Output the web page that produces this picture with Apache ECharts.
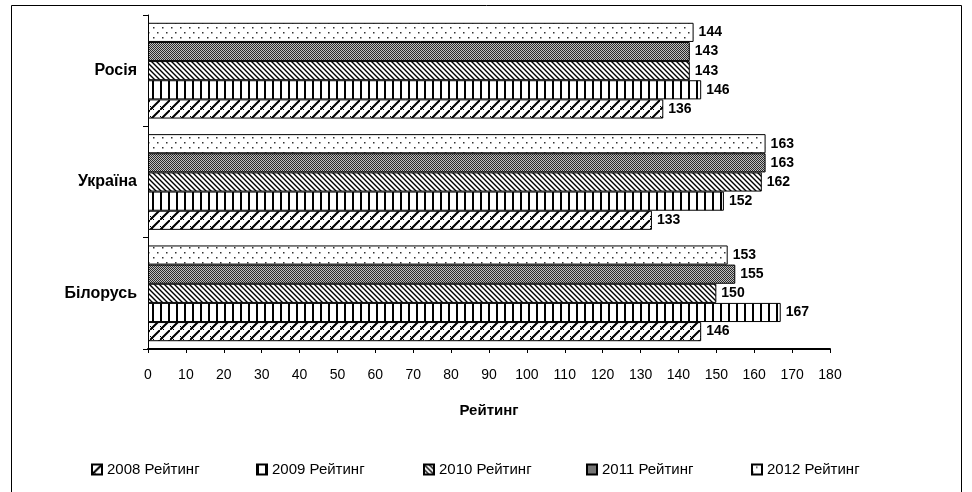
<!DOCTYPE html>
<html><head><meta charset="utf-8">
<script src="https://cdn.jsdelivr.net/npm/echarts@6/dist/echarts.min.js"></script>
</head><body style="margin:0;background:#fff">
<div id="c" style="width:972px;height:492px"></div>
<script>
const categories = ['Білорусь', 'Україна', 'Росія'];
const seriesNames = ['2008 Рейтинг', '2009 Рейтинг', '2010 Рейтинг', '2011 Рейтинг', '2012 Рейтинг'];
const v2008 = [146, 133, 136];
const v2009 = [167, 152, 146];
const v2010 = [150, 162, 143];
const v2011 = [155, 163, 143];
const v2012 = [153, 163, 144];
const xMin = 0, xMax = 180, xInterval = 10;
const axisTitle = 'Рейтинг';

const FONT = '"Liberation Sans", Arial, sans-serif';

function pat(w, h, draw) {
  const c = document.createElement('canvas');
  c.width = w; c.height = h;
  const g = c.getContext('2d');
  g.fillStyle = '#fff'; g.fillRect(0, 0, w, h);
  g.fillStyle = '#000'; g.strokeStyle = '#000';
  draw(g, w, h);
  return { image: c, repeat: 'repeat' };
}
const patterns = [
  pat(10, 10, (g, w, h) => { // 2008 wide forward diagonal
    g.lineWidth = 2;
    g.beginPath();
    g.moveTo(-1, h + 1); g.lineTo(w + 1, -1);
    g.moveTo(-2, 1); g.lineTo(1, -2);
    g.moveTo(w - 1, h + 2); g.lineTo(w + 2, h - 1);
    g.stroke();
    g.lineWidth = 1;
    g.beginPath();
    g.moveTo(0, 6); g.lineTo(4, 10);
    g.stroke();
  }),
  pat(8, 2, (g) => { g.fillRect(0, 0, 2, 2); }), // 2009 vertical lines
  pat(5, 5, (g, w, h) => { // 2010 back diagonal
    g.lineWidth = 1.4;
    g.beginPath();
    g.moveTo(-1, -1); g.lineTo(w + 1, h + 1);
    g.moveTo(-1, h - 1); g.lineTo(1, h + 1);
    g.moveTo(w - 1, -1); g.lineTo(w + 1, 1);
    g.stroke();
  }),
  pat(2, 2, (g) => { // 2011 dense checker
    g.fillStyle = '#2a2a2a'; g.fillRect(0, 0, 1, 1); g.fillRect(1, 1, 1, 1);
    g.fillStyle = '#c0c0c0'; g.fillRect(1, 0, 1, 1); g.fillRect(0, 1, 1, 1);
  }),
  pat(9, 10, (g) => { // 2012 sparse dots
    g.fillStyle = '#333';
    g.fillRect(4, 2, 1.5, 1.5); g.fillRect(0, 7, 1.5, 1.5);
  })
];
const values = [v2008, v2009, v2010, v2011, v2012];
const legendX = [86, 251, 418, 581, 746];
const drawOrder = [4, 3, 2, 1, 0]; // first series is drawn at the top of each band

const chart = echarts.init(document.getElementById('c'), null, { renderer: 'canvas' });
chart.setOption({
  animation: false,
  backgroundColor: '#fff',
  textStyle: { fontFamily: FONT },
  graphic: [{
    type: 'rect', shape: { x: 11.5, y: 5.5, width: 950, height: 500 },
    style: { fill: 'none', stroke: '#000', lineWidth: 1 }, silent: true
  }],
  grid: { left: 148, right: 142, top: 15, bottom: 143 },
  legend: seriesNames.map((n, i) => ({
    data: [n], left: legendX[i], top: 457, itemWidth: 10, itemHeight: 10, itemGap: 5,
    icon: 'rect',
    textStyle: { fontFamily: FONT, fontSize: 15, color: '#000' }
  })),
  xAxis: {
    type: 'value', min: xMin, max: xMax, interval: xInterval,
    splitLine: { show: false },
    axisLine: { show: true, lineStyle: { color: '#000', width: 2 } },
    axisTick: { show: true, length: 4, lineStyle: { color: '#000', width: 1 } },
    axisLabel: { color: '#000', fontSize: 14, margin: 19, fontFamily: FONT },
    name: axisTitle, nameLocation: 'middle', nameGap: 54,
    nameTextStyle: { fontWeight: 'bold', fontSize: 15, color: '#000', fontFamily: FONT }
  },
  yAxis: {
    type: 'category', data: categories,
    axisLine: { show: true, lineStyle: { color: '#000', width: 1 } },
    axisTick: { show: true, length: 5, lineStyle: { color: '#000' } },
    axisLabel: { color: '#000', fontSize: 16, fontWeight: 'bold', margin: 11, fontFamily: FONT }
  },
  series: drawOrder.map((i) => ({
    name: seriesNames[i], type: 'bar', data: values[i],
    barGap: '0%', barCategoryGap: '14%',
    itemStyle: { color: patterns[i], borderColor: '#000', borderWidth: 1 },
    label: { show: true, position: 'right', distance: 5, color: '#000',
      fontWeight: 'bold', fontSize: 14, fontFamily: FONT }
  }))
});
</script>
</body></html>
